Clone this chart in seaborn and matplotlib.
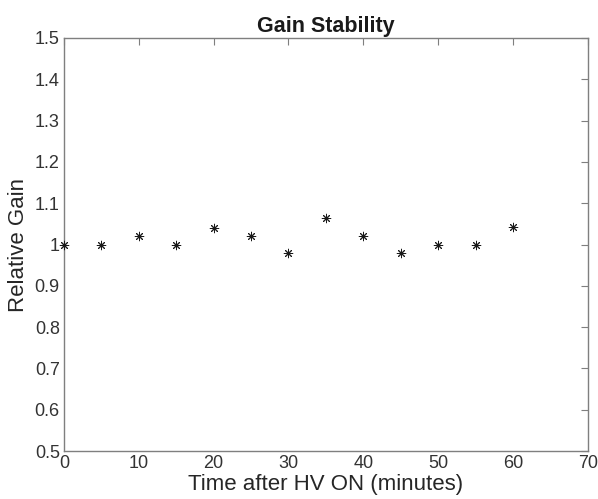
import matplotlib
matplotlib.use('Agg')
import matplotlib.pyplot as plt
import seaborn as sns

# ---- data ----
time_min = [0, 5, 10, 15, 20, 25, 30, 35, 40, 45, 50, 55, 60]
rel_gain = [1.00, 1.00, 1.02, 1.00, 1.04, 1.02, 0.98, 1.063, 1.02, 0.98, 1.00, 1.00, 1.043]
x_ticks = [0, 10, 20, 30, 40, 50, 60, 70]
y_ticks = [0.5, 0.6, 0.7, 0.8, 0.9, 1.0, 1.1, 1.2, 1.3, 1.4, 1.5]
y_tick_labels = ['0.5', '0.6', '0.7', '0.8', '0.9', '1', '1.1', '1.2', '1.3', '1.4', '1.5']

sns.set_style('white')
plt.rcParams['font.family'] = ['Liberation Sans', 'DejaVu Sans']

fig = plt.figure(figsize=(5.98, 4.99), dpi=100)
ax = fig.add_axes([0.107, 0.096, 0.876, 0.828])

# MATLAB-style asterisk marker
sns.scatterplot(x=time_min, y=rel_gain, ax=ax, marker=(8, 2, 0), s=38,
                color='#1a1a1a', edgecolor='#1a1a1a', linewidth=0.7, clip_on=False, zorder=3)

ax.set_xlim(0, 70)
ax.set_ylim(0.5, 1.5)
ax.set_xticks(x_ticks)
ax.set_yticks(y_ticks)
ax.set_yticklabels(y_tick_labels)

grey = '#7f7f7f'
for s in ax.spines.values():
    s.set_color(grey)
    s.set_linewidth(1.0)
ax.tick_params(direction='in', length=5, width=0.8, color=grey,
               top=True, right=True, labelsize=13, labelcolor='#333333', pad=3)

ax.set_title('Gain Stability', fontsize=15.5, fontweight='bold', color='#1a1a1a', pad=4)
ax.set_xlabel('Time after HV ON (minutes)', fontsize=16, color='#262626', labelpad=1)
ax.set_ylabel('Relative Gain', fontsize=16, color='#262626', labelpad=4)

fig.savefig('out.png', dpi=100)
